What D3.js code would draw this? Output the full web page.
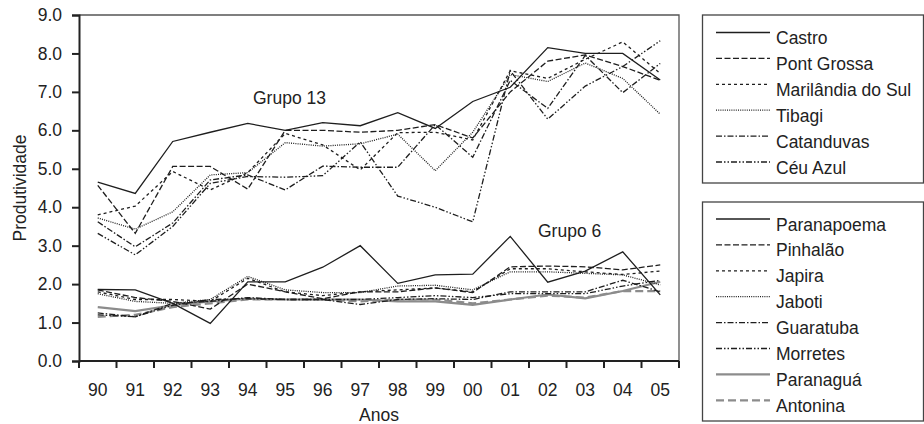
<!DOCTYPE html>
<html>
<head>
<meta charset="utf-8">
<title>Produtividade</title>
<script src="https://cdn.jsdelivr.net/npm/d3@7"></script>
<style>
  body { margin: 0; background: #fff; }
  text { font-family: "Liberation Sans", Arial, sans-serif; fill: #222; }
</style>
</head>
<body>
<script>
// Anos no eixo x
var years = ["90", "91", "92", "93", "94", "95", "96", "97", "98", "99", "00", "01", "02", "03", "04", "05"];
var yTicks = [0, 1, 2, 3, 4, 5, 6, 7, 8, 9];

// Grupo 13
var castro      = [4.65, 4.36, 5.71, 5.95, 6.18, 6.00, 6.20, 6.12, 6.46, 6.05, 6.75, 7.12, 8.15, 8.00, 8.00, 7.31];
var pontGrossa  = [4.57, 3.32, 5.06, 5.06, 4.47, 6.00, 6.00, 5.95, 6.00, 6.15, 5.80, 7.00, 7.80, 7.96, 7.66, 7.30];
var marilandia  = [3.80, 4.03, 4.93, 4.45, 4.90, 5.92, 5.62, 4.97, 5.94, 5.95, 5.75, 7.55, 7.35, 7.85, 8.30, 7.48];
var tibagi      = [3.72, 3.43, 3.88, 4.84, 4.90, 5.68, 5.59, 5.65, 5.90, 4.95, 5.95, 7.45, 7.27, 7.75, 7.35, 6.42];
var catanduvas  = [3.62, 2.97, 3.59, 4.71, 4.84, 4.45, 5.07, 5.04, 5.04, 6.15, 5.30, 7.30, 6.57, 7.95, 6.98, 7.74];
var ceuAzul     = [3.32, 2.76, 3.50, 4.62, 4.80, 4.78, 4.82, 5.70, 4.29, 4.00, 3.62, 7.55, 6.29, 7.15, 7.66, 8.33];

// Grupo 6
var paranapoema = [1.86, 1.85, 1.50, 0.98, 2.06, 2.06, 2.44, 3.00, 2.02, 2.24, 2.26, 3.24, 2.05, 2.34, 2.84, 1.72];
var pinhalao    = [1.85, 1.65, 1.55, 1.35, 2.00, 1.80, 1.62, 1.80, 1.80, 1.90, 1.78, 2.45, 2.47, 2.45, 2.37, 2.50];
var japira      = [1.80, 1.60, 1.60, 1.55, 2.15, 1.80, 1.70, 1.80, 1.85, 1.90, 1.80, 2.40, 2.40, 2.32, 2.25, 2.34];
var jaboti      = [1.75, 1.55, 1.50, 1.60, 2.20, 1.85, 1.78, 1.78, 1.95, 1.97, 1.85, 2.32, 2.32, 2.28, 2.24, 1.98];
var guaratuba   = [1.25, 1.15, 1.50, 1.55, 1.65, 1.60, 1.60, 1.47, 1.60, 1.62, 1.60, 1.80, 1.80, 1.80, 2.10, 1.80];
var morretes    = [1.20, 1.15, 1.45, 1.60, 1.62, 1.60, 1.60, 1.60, 1.65, 1.70, 1.65, 1.75, 1.75, 1.75, 1.95, 2.10];
var paranagua   = [1.40, 1.30, 1.45, 1.55, 1.62, 1.60, 1.60, 1.60, 1.55, 1.55, 1.46, 1.60, 1.73, 1.63, 1.82, 2.06];
var antonina    = [1.15, 1.20, 1.40, 1.50, 1.60, 1.60, 1.60, 1.55, 1.60, 1.60, 1.50, 1.60, 1.70, 1.65, 1.82, 1.82];

// Line styles
var black = "#1e1e1e", grey = "#8c8c8c";
var styles = {
  solid:      { color: black, width: 1.3, dash: null },
  longDash:   { color: black, width: 1.3, dash: "6,2.5" },
  shortDash:  { color: black, width: 1.3, dash: "3,3" },
  dotted:     { color: black, width: 1.3, dash: "1,1.2" },
  dashDot:    { color: black, width: 1.3, dash: "6,2,1.5,2" },
  dashDotDot: { color: black, width: 1.3, dash: "6,2,1.5,2,1.5,2" },
  greySolid:  { color: grey,  width: 2.2, dash: null },
  greyDash:   { color: grey,  width: 2.2, dash: "8,4" }
};

var group13 = [
  { name: "Castro", values: castro, style: styles.solid },
  { name: "Pont Grossa", values: pontGrossa, style: styles.longDash },
  { name: "Marilândia do Sul", values: marilandia, style: styles.shortDash },
  { name: "Tibagi", values: tibagi, style: styles.dotted },
  { name: "Catanduvas", values: catanduvas, style: styles.dashDot },
  { name: "Céu Azul", values: ceuAzul, style: styles.dashDotDot }
];
var group6 = [
  { name: "Paranapoema", values: paranapoema, style: styles.solid },
  { name: "Pinhalão", values: pinhalao, style: styles.longDash },
  { name: "Japira", values: japira, style: styles.shortDash },
  { name: "Jaboti", values: jaboti, style: styles.dotted },
  { name: "Guaratuba", values: guaratuba, style: styles.dashDot },
  { name: "Morretes", values: morretes, style: styles.dashDotDot },
  { name: "Paranaguá", values: paranagua, style: styles.greySolid },
  { name: "Antonina", values: antonina, style: styles.greyDash }
];

var w = 924, h = 424;
var plotLeft = 79, plotRight = 679, plotTop = 15, plotBottom = 361;
var fontSize = "17.5px";

var svg = d3.select("body").append("svg").attr("width", w).attr("height", h);

var x = d3.scaleBand().domain(years).range([plotLeft, plotRight]);
var y = d3.scaleLinear().domain([0, 9]).range([plotBottom, plotTop]);

// Plot frame (top and right)
svg.append("path")
   .attr("d", "M" + plotLeft + "," + plotTop + "H" + plotRight + "V" + plotBottom)
   .attr("fill", "none").attr("stroke", "#555").attr("stroke-width", 1.3);

// Series lines
var line = d3.line()
  .x(function(d, i) { return x(years[i]) + x.bandwidth() / 2; })
  .y(function(d) { return y(d); });

var all = group6.slice().reverse().concat(group13.slice().reverse());
svg.selectAll("path.serie").data(all).enter().append("path")
   .attr("class", "serie")
   .attr("d", function(d) { return line(d.values); })
   .attr("fill", "none")
   .attr("stroke", function(d) { return d.style.color; })
   .attr("stroke-width", function(d) { return d.style.width; })
   .attr("stroke-dasharray", function(d) { return d.style.dash; })
   .attr("stroke-linejoin", "miter");

// Y axis
var yAxis = d3.axisLeft(y).tickValues(yTicks).tickFormat(d3.format(".1f"))
              .tickSize(7).tickPadding(10);
var gy = svg.append("g").attr("transform", "translate(" + plotLeft + ",0)").call(yAxis);
gy.select(".domain").attr("stroke", "#222").attr("stroke-width", 2);
gy.selectAll(".tick line").attr("stroke", "#222").attr("stroke-width", 2);
gy.selectAll(".tick text").style("font-size", fontSize).attr("fill", "#222")
  .style("font-family", "Liberation Sans, Arial, sans-serif");

// X axis: ticks on band edges, labels in the middle
var gx = svg.append("g");
gx.append("line").attr("x1", plotLeft).attr("x2", plotRight)
  .attr("y1", plotBottom).attr("y2", plotBottom)
  .attr("stroke", "#222").attr("stroke-width", 2);
var edges = years.map(function(d) { return x(d); }).concat([plotRight]);
gx.selectAll("line.tick").data(edges).enter().append("line")
  .attr("class", "tick")
  .attr("x1", function(d) { return d; }).attr("x2", function(d) { return d; })
  .attr("y1", plotBottom).attr("y2", plotBottom + 7)
  .attr("stroke", "#222").attr("stroke-width", 2);
gx.selectAll("text").data(years).enter().append("text")
  .attr("x", function(d) { return x(d) + x.bandwidth() / 2; })
  .attr("y", 396)
  .attr("text-anchor", "middle").style("font-size", fontSize)
  .text(function(d) { return d; });

// Axis titles
svg.append("text").attr("x", 379).attr("y", 421).attr("text-anchor", "middle")
   .style("font-size", fontSize).text("Anos");
svg.append("text").attr("transform", "translate(26,188) rotate(-90)")
   .attr("text-anchor", "middle").style("font-size", fontSize).text("Produtividade");

// Group labels
svg.append("text").attr("x", 253).attr("y", 104).style("font-size", fontSize).text("Grupo 13");
svg.append("text").attr("x", 538).attr("y", 237).style("font-size", fontSize).text("Grupo 6");

// Legends
function legend(series, boxTop, boxBottom, firstLine) {
  var g = svg.append("g");
  g.append("rect").attr("x", 702.5).attr("y", boxTop).attr("width", 221)
   .attr("height", boxBottom - boxTop)
   .attr("fill", "none").attr("stroke", "#444").attr("stroke-width", 1.3);
  var rows = g.selectAll("g.row").data(series).enter().append("g")
    .attr("transform", function(d, i) { return "translate(0," + (firstLine + i * 25.9) + ")"; });
  rows.append("line").attr("x1", 716).attr("x2", 770).attr("y1", 0).attr("y2", 0)
    .attr("stroke", function(d) { return d.style.color; })
    .attr("stroke-width", function(d) { return d.style.width; })
    .attr("stroke-dasharray", function(d) { return d.style.dash; });
  rows.append("text").attr("x", 776).attr("y", 11.5).style("font-size", fontSize)
    .text(function(d) { return d.name; });
}
legend(group13, 15, 183, 32.5);
legend(group6, 202, 421, 219);
</script>
</body>
</html>
